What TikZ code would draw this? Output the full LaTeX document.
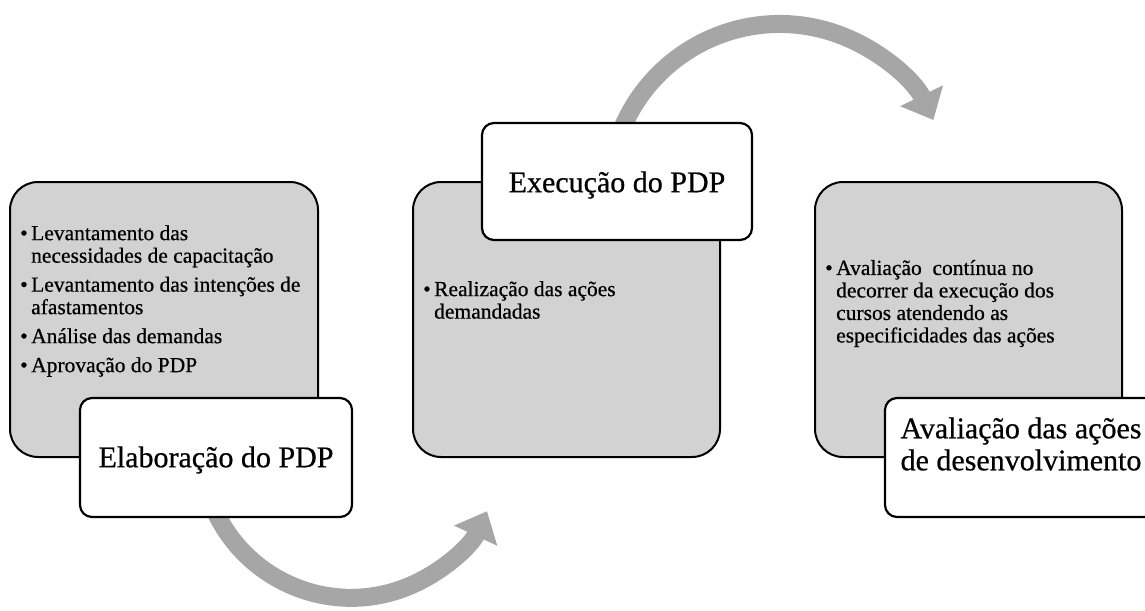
\documentclass[tikz,border=0pt]{standalone}
\usepackage{fontspec}
\setmainfont{Liberation Serif}[FakeBold=0.6]
\usetikzlibrary{arrows.meta}
\definecolor{boxgray}{RGB}{210,210,210}
\definecolor{arrowgray}{RGB}{166,166,166}
\newcommand\bul{\makebox[11pt][l]{\textbullet}}
\newcommand\cont{\hspace*{11pt}}
\begin{document}
\begin{tikzpicture}[x=1pt,y=-1pt,
  graybox/.style={draw=black, line width=2pt, fill=boxgray, rounded corners=28pt, inner sep=0pt},
  whitebox/.style={draw=black, line width=2.2pt, fill=white, rounded corners=12pt, inner sep=0pt},
  bodytext/.style={font=\fontsize{21.5}{22.5}\selectfont, align=left, inner sep=0pt, anchor=west, text=black},
  titletext/.style={font=\fontsize{30}{32}\selectfont, align=center, inner sep=0pt, text=black},
  flow/.style={draw=arrowgray, line width=18pt, -{Triangle[length=27pt,width=46pt]}}
]
\fill[white] (0,0) rectangle (1145,610);
\useasboundingbox (0,0) rectangle (1145,610);

% gray content boxes
\node[graybox, minimum width=308pt, minimum height=275pt] (g1) at (164,319.5) {};
\node[graybox, minimum width=307pt, minimum height=275pt] (g2) at (566.5,319.5) {};
\node[graybox, minimum width=307pt, minimum height=275pt] (g3) at (968.5,319.5) {};

% curved arrows (behind the white title boxes)
\coordinate (b1) at (212,504);
\coordinate (b2) at (619,136.5);
\draw[flow] (b1) arc[start angle=158, end angle=25, radius=150];
\draw[flow] (b2) arc[start angle=200, end angle=334, radius=171];

% white title boxes
\node[whitebox, minimum width=272pt, minimum height=119pt] (w1) at (216,457.5) {};
\node[whitebox, minimum width=270pt, minimum height=117pt] (w2) at (617,181.5) {};
\node[whitebox, minimum width=272pt, minimum height=119pt] (w3) at (1021,457.5) {};

% titles
\node[titletext] (l1) at (216,460) {Elaboração do PDP};
\node[titletext] (l2) at (617,185) {Execução do PDP};
\node[titletext] (l3) at (1021,444) {Avaliação das ações\\de desenvolvimento};

% bullet texts
\node[bodytext] (t1) at (20,301) {\bul Levantamento das\\
  \cont necessidades de capacitação\\[6.5pt]
  \bul Levantamento das intenções de\\
  \cont afastamentos\\[6.5pt]
  \bul Análise das demandas\\[6.5pt]
  \bul Aprovação do PDP};
\node[bodytext] (t2) at (423,300) {\bul Realização das ações\\
  \cont demandadas};
\node[bodytext] (t3) at (825,303.5) {\bul Avaliação~ contínua no\\
  \cont decorrer da execução dos\\
  \cont cursos atendendo as\\
  \cont especificidades das ações};
\end{tikzpicture}
\end{document}
